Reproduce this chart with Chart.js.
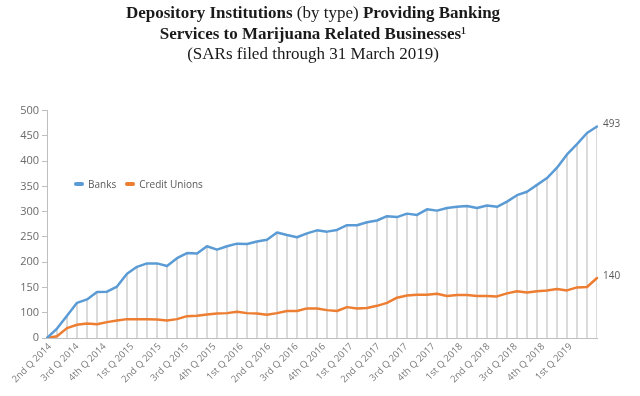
<!DOCTYPE html>
<html><head><meta charset="utf-8">
<script src="https://cdn.jsdelivr.net/npm/chart.js@4.4.1/dist/chart.umd.min.js"></script>
<style>
html,body{margin:0;padding:0;background:#fff;}
#wrap{position:relative;width:640px;height:396px;overflow:hidden;background:#fff;}
#c{position:absolute;left:0;top:0;}
#title{position:absolute;left:0;top:3px;width:626px;text-align:center;font-family:"Liberation Serif",serif;font-size:17px;line-height:20.5px;color:#1a1a1a;}
#title b{font-weight:bold}
#legend{position:absolute;left:74px;top:177px;font-family:"Open Sans",sans-serif;font-size:10px;color:#595959;display:flex;align-items:center;white-space:nowrap;}
#legend span.it{display:inline-flex;align-items:center;margin-right:9px;}
#legend i{display:inline-block;width:10px;height:4px;border-radius:2px;margin-right:4px;}
</style></head>
<body><div id="wrap">
<canvas id="c" width="640" height="396"></canvas>
<div id="title"><b>Depository Institutions</b> (by type) <b>Providing Banking</b><br><b>Services to Marijuana Related Businesses</b>¹<br>(SARs filed through 31 March 2019)</div>
<div id="legend"></div>
</div>
<script>
// ---- data ----
const quarterLabels = ["2nd Q 2014","3rd Q 2014","4th Q 2014","1st Q 2015","2nd Q 2015","3rd Q 2015","4th Q 2015","1st Q 2016","2nd Q 2016","3rd Q 2016","4th Q 2016","1st Q 2017","2nd Q 2017","3rd Q 2017","4th Q 2017","1st Q 2018","2nd Q 2018","3rd Q 2018","4th Q 2018","1st Q 2019"];
const banks = [0,22,52,82,90,107,108,120,150,166,174,174,168,186,198,197,214,206,214,220,219,225,229,246,240,235,244,251,248,252,263,263,270,274,284,282,290,287,300,297,303,306,308,303,309,306,318,333,341,357,373,397,428,452,478,493];
const creditUnions = [0,4,23,31,34,32,37,41,44,44,44,43,41,44,51,52,55,57,58,61,58,57,54,58,63,63,69,69,65,63,72,69,70,75,82,94,99,101,101,103,98,100,100,98,98,97,104,109,106,109,111,114,111,118,119,140];
const periods = banks.map((_, i) => String(i + 1));
const yTickLabels = ["0","100","150","200","250","300","350","400","450","500"];
const seriesNames = ["Banks","Credit Unions"];
const seriesColors = ["#5B9BD5","#ED7D31"];

// ---- layout constants ----
const Q0 = 0.3, QSTEP = 2.74;

const legend = document.getElementById('legend');
seriesNames.forEach((n, i) => {
  const s = document.createElement('span'); s.className = 'it';
  const m = document.createElement('i'); m.style.background = seriesColors[i];
  s.appendChild(m); s.appendChild(document.createTextNode(n));
  legend.appendChild(s);
});

const endLabels = {
  id: 'endLabels',
  afterDatasetsDraw(chart) {
    const ctx = chart.ctx;
    ctx.save();
    ctx.font = '10px "Open Sans"';
    ctx.fillStyle = '#595959';
    ctx.textBaseline = 'middle';
    ctx.textAlign = 'left';
    [0, 1].forEach(di => {
      const meta = chart.getDatasetMeta(di);
      const n = meta.data.length - 1;
      const pt = meta.data[n];
      ctx.fillText(String(chart.data.datasets[di].data[n]), pt.x + 6, pt.y - 2);
    });
    ctx.restore();
  }
};

new Chart(document.getElementById('c'), {
  type: 'line',
  data: {
    labels: periods,
    datasets: [
      { type: 'line', label: seriesNames[0], data: banks, borderColor: seriesColors[0], borderWidth: 2.5, pointRadius: 0, tension: 0, fill: false, borderJoinStyle: 'round', borderCapStyle: 'round' },
      { type: 'line', label: seriesNames[1], data: creditUnions, borderColor: seriesColors[1], borderWidth: 2.5, pointRadius: 0, tension: 0, fill: false, borderJoinStyle: 'round', borderCapStyle: 'round' },
      { type: 'bar', label: 'drop', data: banks, backgroundColor: '#d4d4d4', barThickness: 1, borderWidth: 0 }
    ]
  },
  options: {
    responsive: false,
    animation: false,
    events: [],
    layout: { padding: { top: 110.7, right: 43, bottom: 0, left: 0 } },
    plugins: { legend: { display: false }, tooltip: { enabled: false }, title: { display: false } },
    scales: {
      x: { type: 'category', display: false, offset: false, grid: { offset: false } },
      xq: {
        type: 'linear', position: 'bottom', min: 0, max: banks.length - 1,
        afterBuildTicks(s) { s.ticks = quarterLabels.map((_, i) => ({ value: Q0 + i * QSTEP })); },
        afterFit(s) { s.height = 58; },
        grid: { display: false, drawTicks: false },
        border: { display: true, color: '#bfbfbf', width: 1 },
        ticks: { autoSkip: false, maxRotation: 45, minRotation: 45, padding: 3, color: '#7a7a7a',
                 font: { family: 'Open Sans', size: 9.5 }, callback: (v, i) => quarterLabels[i] }
      },
      y: { type: 'linear', display: false, min: 0, max: 530 },
      yl: {
        type: 'linear', position: 'left', min: 0, max: yTickLabels.length - 1,
        afterBuildTicks(s) { s.ticks = yTickLabels.map((_, i) => ({ value: i })); },
        afterFit(s) { s.width = 47; },
        grid: { display: true, drawOnChartArea: false, drawTicks: true, tickLength: 5, color: '#bfbfbf' },
        border: { display: true, color: '#bfbfbf' },
        ticks: { color: '#6b6b6b', font: { family: 'Open Sans', size: 11 }, padding: 3, callback: (v, i) => yTickLabels[i] }
      }
    }
  },
  plugins: [endLabels]
});
</script>
</body></html>
